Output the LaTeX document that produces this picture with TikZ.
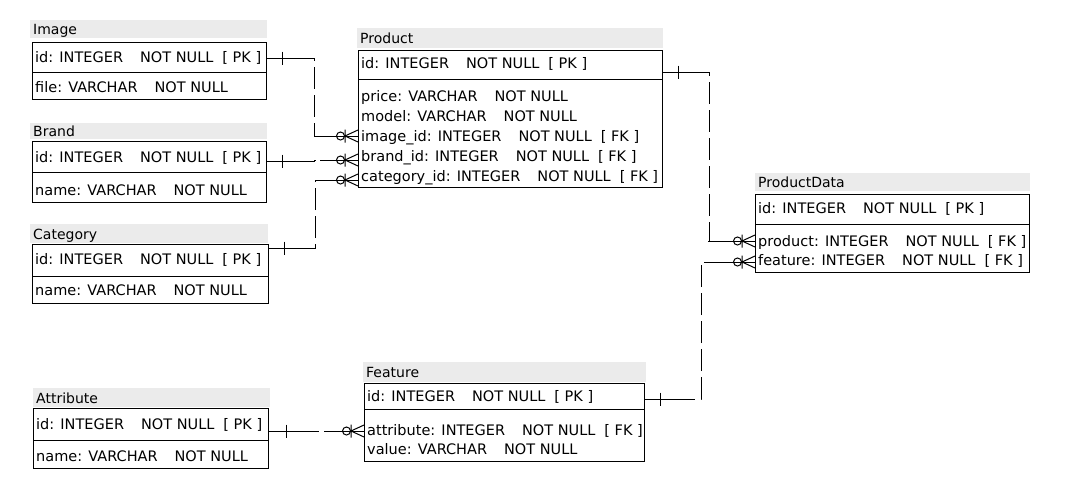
\documentclass[tikz,border=0pt]{standalone}
\usepackage{fontspec}
\setmainfont{DejaVu Sans}
\usetikzlibrary{positioning, calc}

\newcommand{\tgap}{\hspace{17pt}}
\newcommand{\kgap}{\hspace{9pt}}

\tikzstyle{tabletitle} = [rectangle, fill=black!8, anchor=north west, inner xsep=3pt, inner ysep=0pt, align=left, text height=12pt, text depth=1pt, font=\fontsize{14}{16}\selectfont]
\tikzstyle{tablebox} = [rectangle, draw=black, line width=1pt, anchor=north west, inner sep=0pt]
\tikzstyle{field} = [anchor=west, inner sep=0pt, text height=12pt, text depth=1pt, font=\fontsize{14.5}{16}\selectfont]
\tikzstyle{divider} = [line width=1pt]
\tikzstyle{link} = [line width=1pt, dash pattern=on 22pt off 6pt]
\tikzstyle{stub} = [line width=1pt]
\tikzset{
  one/.pic={\draw [line width=1pt] (0,-6.5) -- (0,6.5);},
  many/.pic={\draw [line width=1pt] (-13,-6.5) -- (-13,6.5) (0,-6) -- (-13,0) -- (0,6);
             \draw [line width=1pt] (-17.5,0) circle [radius=4pt];}
}

\begin{document}
\begin{tikzpicture}[x=1pt, y=-1pt]
    \useasboundingbox (0,0) rectangle (1065,501);

    % Image
    \node (imageTitle) [tabletitle, text width=231pt, minimum height=18pt] at (30,20) {Image};
    \node (image) [tablebox, minimum width=234pt, minimum height=57pt] at (32,42) {};
    \draw [divider] (image.west |- 0,72) -- (image.east |- 0,72);
    \node (imageId) [field] at (35,57) {id: INTEGER\tgap NOT NULL\kgap [ PK ]};
    \node (imageFile) [field] at (35,87) {file: VARCHAR\tgap NOT NULL};

    % Brand
    \node (brandTitle) [tabletitle, text width=231pt, minimum height=16pt] at (30,123) {Brand};
    \node (brand) [tablebox, minimum width=234pt, minimum height=61pt] at (32,141) {};
    \draw [divider] (brand.west |- 0,172) -- (brand.east |- 0,172);
    \node (brandId) [field] at (35,157) {id: INTEGER\tgap NOT NULL\kgap [ PK ]};
    \node (brandName) [field] at (35,190) {name: VARCHAR\tgap NOT NULL};

    % Category
    \node (categoryTitle) [tabletitle, text width=232pt, minimum height=19pt] at (30,224) {Category};
    \node (category) [tablebox, minimum width=236pt, minimum height=59pt] at (32,244) {};
    \draw [divider] (category.west |- 0,276) -- (category.east |- 0,276);
    \node (categoryId) [field] at (35,259) {id: INTEGER\tgap NOT NULL\kgap [ PK ]};
    \node (categoryName) [field] at (35,290) {name: VARCHAR\tgap NOT NULL};

    % Product
    \node (productTitle) [tabletitle, text width=300pt, minimum height=20pt] at (357,28) {Product};
    \node (product) [tablebox, minimum width=304pt, minimum height=137pt] at (358,50) {};
    \draw [divider] (product.west |- 0,79) -- (product.east |- 0,79);
    \node (productId) [field] at (361,63) {id: INTEGER\tgap NOT NULL\kgap [ PK ]};
    \node (productPrice) [field] at (361,96) {price: VARCHAR\tgap NOT NULL};
    \node (productModel) [field] at (361,116) {model: VARCHAR\tgap NOT NULL};
    \node (productImage) [field] at (361,136) {image\_id: INTEGER\tgap NOT NULL\kgap [ FK ]};
    \node (productBrand) [field] at (361,156) {brand\_id: INTEGER\tgap NOT NULL\kgap [ FK ]};
    \node (productCategory) [field] at (361,176) {category\_id: INTEGER\tgap NOT NULL\kgap [ FK ]};

    % ProductData
    \node (dataTitle) [tabletitle, text width=269pt, minimum height=18pt] at (755,173) {ProductData};
    \node (productData) [tablebox, minimum width=274pt, minimum height=78pt] at (755,194) {};
    \draw [divider] (productData.west |- 0,224) -- (productData.east |- 0,224);
    \node (dataId) [field] at (758,208) {id: INTEGER\tgap NOT NULL\kgap [ PK ]};
    \node (dataProduct) [field] at (758,241) {product: INTEGER\tgap NOT NULL\kgap [ FK ]};
    \node (dataFeature) [field] at (758,260) {feature: INTEGER\tgap NOT NULL\kgap [ FK ]};

    % Feature
    \node (featureTitle) [tabletitle, text width=277pt, minimum height=20pt] at (363,362) {Feature};
    \node (feature) [tablebox, minimum width=280pt, minimum height=78pt] at (364,383) {};
    \draw [divider] (feature.west |- 0,409) -- (feature.east |- 0,409);
    \node (featureId) [field] at (367,396) {id: INTEGER\tgap NOT NULL\kgap [ PK ]};
    \node (featureAttribute) [field] at (367,430) {attribute: INTEGER\tgap NOT NULL\kgap [ FK ]};
    \node (featureValue) [field] at (367,449) {value: VARCHAR\tgap NOT NULL};

    % Attribute
    \node (attributeTitle) [tabletitle, text width=231pt, minimum height=19pt] at (33,388) {Attribute};
    \node (attribute) [tablebox, minimum width=235pt, minimum height=60pt] at (33,408) {};
    \draw [divider] (attribute.west |- 0,440) -- (attribute.east |- 0,440);
    \node (attributeId) [field] at (36,424) {id: INTEGER\tgap NOT NULL\kgap [ PK ]};
    \node (attributeName) [field] at (36,456) {name: VARCHAR\tgap NOT NULL};

    % relations
    \coordinate (imageOut) at (image.east |- 0,58);
    \coordinate (productImageIn) at (product.west |- 0,136);
    \coordinate (brandOut) at (brand.east |- 0,161);
    \coordinate (productBrandIn) at (product.west |- 0,160);
    \coordinate (categoryOut) at (category.east |- 0,248);
    \coordinate (productCategoryIn) at (product.west |- 0,180);
    \coordinate (productOut) at (product.east |- 0,72);
    \coordinate (dataProductIn) at (productData.west |- 0,241);
    \coordinate (featureOut) at (feature.east |- 0,399);
    \coordinate (dataFeatureIn) at (productData.west |- 0,262);
    \coordinate (attributeOut) at (attribute.east |- 0,431);
    \coordinate (featureAttributeIn) at (feature.west |- 0,431);

    \draw [link] (imageOut) -- ([xshift=47pt]imageOut) |- (productImageIn);
    \draw [stub] (imageOut) -- ++(45,0);
    \draw [stub] (productImageIn) -- ++(-35,0);
    \pic at ([xshift=15pt]imageOut) {one};
    \pic at (productImageIn) {many};

    \draw [link] (brandOut) -- ([xshift=47pt]brandOut) |- (productBrandIn);
    \draw [stub] (brandOut) -- ++(45,0);
    \draw [stub] (productBrandIn) -- ++(-38,0);
    \pic at ([xshift=15pt]brandOut) {one};
    \pic at (productBrandIn) {many};

    \draw [link] (categoryOut) -- ([xshift=46pt]categoryOut) |- (productCategoryIn);
    \draw [stub] (categoryOut) -- ++(44,0);
    \draw [stub] (productCategoryIn) -- ++(-28,0);
    \pic at ([xshift=15pt]categoryOut) {one};
    \pic at (productCategoryIn) {many};

    \draw [link] (productOut) -- ([xshift=46pt]productOut) |- (dataProductIn);
    \draw [stub] (productOut) -- ++(46,0);
    \draw [stub] (dataProductIn) -- ++(-47,0);
    \pic at ([xshift=15pt]productOut) {one};
    \pic at (dataProductIn) {many};

    \draw [link] (featureOut) -- ([xshift=56pt]featureOut) |- (dataFeatureIn);
    \draw [stub] (featureOut) -- ++(47,0);
    \draw [stub] (dataFeatureIn) -- ++(-31,0);
    \pic at ([xshift=15pt]featureOut) {one};
    \pic at (dataFeatureIn) {many};

    \draw [link] (attributeOut) -- (featureAttributeIn);
    \draw [stub] (attributeOut) -- ++(42,0);
    \draw [stub] (featureAttributeIn) -- ++(-40,0);
    \pic at ([xshift=17pt]attributeOut) {one};
    \pic at (featureAttributeIn) {many};
\end{tikzpicture}
\end{document}
